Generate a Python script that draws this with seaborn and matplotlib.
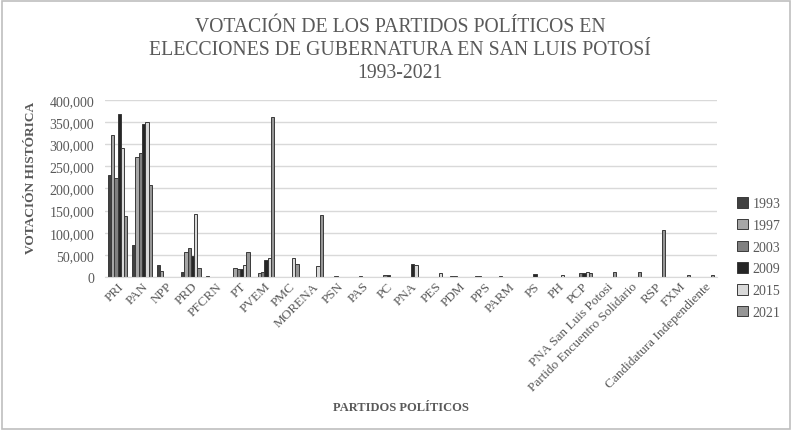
import numpy as np
import pandas as pd
import matplotlib
matplotlib.use("Agg")
import matplotlib.pyplot as plt
import seaborn as sns
from matplotlib.patches import Rectangle
from matplotlib.ticker import FuncFormatter

# partidos (eje x)
partidos = ["PRI", "PAN", "NPP", "PRD", "PFCRN", "PT", "PVEM", "PMC", "MORENA",
            "PSN", "PAS", "PC", "PNA", "PES", "PDM", "PPS", "PARM", "PS", "PH",
            "PCP", "PNA San Luis Potosi", "Partido Encuentro Solidario", "RSP",
            "FXM", "Candidatura Independiente"]
anios = ["1993", "1997", "2003", "2009", "2015", "2021"]

# votos por eleccion
v1993 = [231000, 72000, 28000, 10500, 3000, 0, 0, 0, 0,
         0, 0, 0, 0, 0, 3000, 2000, 1500, 0, 0,
         0, 0, 0, 0, 0, 0]
v1997 = [321000, 270000, 14000, 57000, 0, 20000, 9000, 0, 0,
         0, 0, 0, 0, 0, 2500, 2500, 0, 0, 0,
         0, 0, 0, 0, 0, 0]
v2003 = [224000, 279000, 0, 66000, 0, 17000, 11000, 0, 0,
         2000, 2500, 3500, 0, 0, 0, 0, 0, 0, 0,
         8000, 0, 0, 0, 0, 0]
v2009 = [368000, 345000, 0, 47000, 0, 17000, 38000, 0, 0,
         0, 0, 4000, 30000, 0, 0, 0, 0, 6000, 0,
         9000, 0, 0, 0, 0, 0]
v2015 = [292000, 351000, 0, 142000, 0, 28000, 43000, 43000, 25000,
         0, 0, 0, 27000, 10000, 0, 0, 0, 0, 4000,
         11000, 0, 0, 0, 0, 0]
v2021 = [137000, 208000, 0, 21000, 0, 56000, 362000, 30000, 141000,
         0, 0, 0, 0, 0, 0, 0, 0, 0, 0,
         9000, 12000, 12000, 105000, 5000, 4000]

colores = ["#404040", "#a6a6a6", "#808080", "#262626", "#d9d9d9", "#969696"]

series = [v1993, v1997, v2003, v2009, v2015, v2021]
df = pd.DataFrame({
    "partido": partidos * len(anios),
    "anio": np.repeat(anios, len(partidos)),
    "votos": np.concatenate(series),
})

sns.set_style("white")
plt.rcParams["font.family"] = ["Liberation Serif", "DejaVu Serif"]
gris = "#595959"

fig = plt.figure(figsize=(7.92, 4.31), dpi=100)
ax = fig.add_axes([0.133, 0.355, 0.772, 0.411])

sns.barplot(data=df, x="partido", y="votos", hue="anio", hue_order=anios,
            palette=colores, edgecolor="#3a3a3a", linewidth=0.7,
            width=0.8, ax=ax, legend=True)

ax.set_ylim(0, 400000)
ax.set_yticks(np.arange(0, 400001, 50000))
ax.yaxis.set_major_formatter(FuncFormatter(lambda v, p: f"{int(v):,}"))
ax.grid(axis="y", color="#d9d9d9", linewidth=1)
ax.set_axisbelow(True)
for s in ["top", "right", "left"]:
    ax.spines[s].set_visible(False)
ax.spines["bottom"].set_color("#d9d9d9")
ax.tick_params(axis="y", length=0, labelsize=10, labelcolor=gris, pad=8)
ax.tick_params(axis="x", length=0, labelsize=9.5, labelcolor=gris, pad=2)
plt.setp(ax.get_xticklabels(), rotation=45, ha="right", rotation_mode="anchor")

ax.set_ylabel("VOTACIÓN HISTÓRICA", fontsize=9.6, fontweight="bold", color=gris)
ax.yaxis.set_label_coords(-0.112, 0.565)
ax.set_xlabel("")
fig.text(0.506, 0.053, "PARTIDOS POLÍTICOS", fontsize=9, fontweight="bold",
         color=gris, ha="center", va="center")

fig.text(0.505, 0.883,
         "VOTACIÓN DE LOS PARTIDOS POLÍTICOS EN\nELECCIONES DE GUBERNATURA EN SAN LUIS POTOSÍ\n1993-2021",
         fontsize=14.2, color=gris, ha="center", va="center", linespacing=1.3)

handles, labels = ax.get_legend_handles_labels()
ax.legend_.remove()
fig.legend(handles, labels, loc="center left", bbox_to_anchor=(0.915, 0.399),
           frameon=False, fontsize=10, labelcolor=gris, handlelength=0.8,
           handleheight=0.8, handletextpad=0.3, labelspacing=0.62)

fig.patches.append(Rectangle((0.002, 0.003), 0.995, 0.993, transform=fig.transFigure,
                             fill=False, edgecolor="#bfbfbf", linewidth=1.2))

fig.savefig("out.png", dpi=100)
